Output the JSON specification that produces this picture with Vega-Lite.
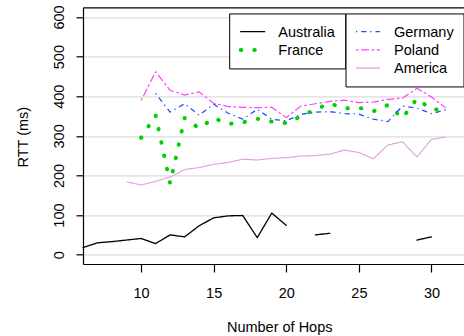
{
  "$schema": "https://vega.github.io/schema/vega-lite/v6.json",
  "width": 381,
  "height": 256.7,
  "autosize": {"type": "none"},
  "padding": {"left": 83, "top": 7.3, "right": 0, "bottom": 72},
  "background": "white",
  "config": {
    "view": {"stroke": null},
    "font": "Liberation Sans",
    "legend": {
      "orient": "none",
      "title": null,
      "padding": 9.5,
      "clipHeight": 17.5,
      "rowPadding": 0.2,
      "symbolSize": 576,
      "symbolType": "stroke",
      "symbolOffset": 0,
      "labelFont": "Liberation Sans",
      "labelFontSize": 14.5,
      "labelColor": "black",
      "strokeColor": "black",
      "fillColor": "white",
      "legendY": 6.15
    }
  },
  "data": {
    "values": [
      {"hop": 6, "rtt": 18, "country": "Australia"},
      {"hop": 7, "rtt": 30, "country": "Australia"},
      {"hop": 8, "rtt": 33, "country": "Australia"},
      {"hop": 9, "rtt": 37, "country": "Australia"},
      {"hop": 10, "rtt": 41, "country": "Australia"},
      {"hop": 11, "rtt": 28, "country": "Australia"},
      {"hop": 12, "rtt": 50, "country": "Australia"},
      {"hop": 13, "rtt": 45, "country": "Australia"},
      {"hop": 14, "rtt": 73, "country": "Australia"},
      {"hop": 15, "rtt": 93, "country": "Australia"},
      {"hop": 16, "rtt": 98, "country": "Australia"},
      {"hop": 17, "rtt": 99, "country": "Australia"},
      {"hop": 18, "rtt": 43, "country": "Australia"},
      {"hop": 19, "rtt": 105, "country": "Australia"},
      {"hop": 20, "rtt": 74, "country": "Australia"},
      {"hop": 21, "rtt": null, "country": "Australia"},
      {"hop": 22, "rtt": 50, "country": "Australia"},
      {"hop": 23, "rtt": 54, "country": "Australia"},
      {"hop": 24, "rtt": null, "country": "Australia"},
      {"hop": 25, "rtt": null, "country": "Australia"},
      {"hop": 26, "rtt": null, "country": "Australia"},
      {"hop": 27, "rtt": null, "country": "Australia"},
      {"hop": 28, "rtt": null, "country": "Australia"},
      {"hop": 29, "rtt": 37, "country": "Australia"},
      {"hop": 30, "rtt": 45, "country": "Australia"},

      {"hop": 10, "rtt": 295, "country": "France"},
      {"hop": 11, "rtt": 352, "country": "France"},
      {"hop": 12, "rtt": 180, "country": "France"},
      {"hop": 13, "rtt": 345, "country": "France"},
      {"hop": 14, "rtt": 319, "country": "France"},
      {"hop": 15, "rtt": 345, "country": "France"},
      {"hop": 16, "rtt": 330, "country": "France"},
      {"hop": 17, "rtt": 334, "country": "France"},
      {"hop": 18, "rtt": 343, "country": "France"},
      {"hop": 19, "rtt": 336, "country": "France"},
      {"hop": 20, "rtt": 332, "country": "France"},
      {"hop": 21, "rtt": 349, "country": "France"},
      {"hop": 22, "rtt": 367, "country": "France"},
      {"hop": 23, "rtt": 382, "country": "France"},
      {"hop": 24, "rtt": 369, "country": "France"},
      {"hop": 25, "rtt": 371, "country": "France"},
      {"hop": 26, "rtt": 362, "country": "France"},
      {"hop": 27, "rtt": 378, "country": "France"},
      {"hop": 28, "rtt": 345, "country": "France"},
      {"hop": 29, "rtt": 394, "country": "France"},
      {"hop": 30, "rtt": 367, "country": "France"},
      {"hop": 31, "rtt": 366, "country": "France"},

      {"hop": 11, "rtt": 407, "country": "Germany"},
      {"hop": 12, "rtt": 360, "country": "Germany"},
      {"hop": 13, "rtt": 381, "country": "Germany"},
      {"hop": 14, "rtt": 352, "country": "Germany"},
      {"hop": 15, "rtt": 380, "country": "Germany"},
      {"hop": 16, "rtt": 357, "country": "Germany"},
      {"hop": 17, "rtt": 342, "country": "Germany"},
      {"hop": 18, "rtt": 367, "country": "Germany"},
      {"hop": 19, "rtt": 342, "country": "Germany"},
      {"hop": 20, "rtt": 338, "country": "Germany"},
      {"hop": 21, "rtt": 354, "country": "Germany"},
      {"hop": 22, "rtt": 360, "country": "Germany"},
      {"hop": 23, "rtt": 361, "country": "Germany"},
      {"hop": 24, "rtt": 356, "country": "Germany"},
      {"hop": 25, "rtt": 355, "country": "Germany"},
      {"hop": 26, "rtt": 342, "country": "Germany"},
      {"hop": 27, "rtt": 336, "country": "Germany"},
      {"hop": 28, "rtt": 375, "country": "Germany"},
      {"hop": 29, "rtt": 370, "country": "Germany"},
      {"hop": 30, "rtt": 356, "country": "Germany"},
      {"hop": 31, "rtt": 366, "country": "Germany"},

      {"hop": 10, "rtt": 389, "country": "Poland"},
      {"hop": 11, "rtt": 462, "country": "Poland"},
      {"hop": 12, "rtt": 415, "country": "Poland"},
      {"hop": 13, "rtt": 403, "country": "Poland"},
      {"hop": 14, "rtt": 411, "country": "Poland"},
      {"hop": 15, "rtt": 382, "country": "Poland"},
      {"hop": 16, "rtt": 374, "country": "Poland"},
      {"hop": 17, "rtt": 372, "country": "Poland"},
      {"hop": 18, "rtt": 371, "country": "Poland"},
      {"hop": 19, "rtt": 372, "country": "Poland"},
      {"hop": 20, "rtt": 346, "country": "Poland"},
      {"hop": 21, "rtt": 375, "country": "Poland"},
      {"hop": 22, "rtt": 381, "country": "Poland"},
      {"hop": 23, "rtt": 387, "country": "Poland"},
      {"hop": 24, "rtt": 390, "country": "Poland"},
      {"hop": 25, "rtt": 384, "country": "Poland"},
      {"hop": 26, "rtt": 385, "country": "Poland"},
      {"hop": 27, "rtt": 392, "country": "Poland"},
      {"hop": 28, "rtt": 395, "country": "Poland"},
      {"hop": 29, "rtt": 420, "country": "Poland"},
      {"hop": 30, "rtt": 398, "country": "Poland"},
      {"hop": 31, "rtt": 370, "country": "Poland"},

      {"hop": 9, "rtt": 184, "country": "America"},
      {"hop": 10, "rtt": 176, "country": "America"},
      {"hop": 11, "rtt": 185, "country": "America"},
      {"hop": 12, "rtt": 196, "country": "America"},
      {"hop": 13, "rtt": 215, "country": "America"},
      {"hop": 14, "rtt": 220, "country": "America"},
      {"hop": 15, "rtt": 228, "country": "America"},
      {"hop": 16, "rtt": 233, "country": "America"},
      {"hop": 17, "rtt": 241, "country": "America"},
      {"hop": 18, "rtt": 239, "country": "America"},
      {"hop": 19, "rtt": 243, "country": "America"},
      {"hop": 20, "rtt": 245, "country": "America"},
      {"hop": 21, "rtt": 249, "country": "America"},
      {"hop": 22, "rtt": 250, "country": "America"},
      {"hop": 23, "rtt": 254, "country": "America"},
      {"hop": 24, "rtt": 264, "country": "America"},
      {"hop": 25, "rtt": 258, "country": "America"},
      {"hop": 26, "rtt": 242, "country": "America"},
      {"hop": 27, "rtt": 277, "country": "America"},
      {"hop": 28, "rtt": 285, "country": "America"},
      {"hop": 29, "rtt": 247, "country": "America"},
      {"hop": 30, "rtt": 291, "country": "America"},
      {"hop": 31, "rtt": 297, "country": "America"}
    ]
  },
  "layer": [
    {
      "transform": [{"filter": {"field": "country", "oneOf": ["Australia", "France"]}}],
      "mark": {"type": "line", "strokeCap": "round", "strokeJoin": "round", "invalid": "break-paths-filter-domains"},
      "encoding": {
        "x": {
          "field": "hop", "type": "quantitative",
          "scale": {"domain": [6, 32.24], "nice": false, "zero": false},
          "axis": {
            "orient": "bottom", "values": [10, 15, 20, 25, 30], "grid": false,
            "domainColor": "black", "domainWidth": 1.2,
            "tickColor": "black", "tickWidth": 1.2, "tickSize": 8,
            "labelBaseline": "alphabetic", "labelPadding": 25.3, "labelFontSize": 14.5,
            "labelColor": "black", "labelFlush": false, "labelOverlap": false,
            "title": "Number of Hops", "titleX": 196.2, "titleY": 67.7,
            "titleAlign": "center", "titleBaseline": "alphabetic",
            "titleFontWeight": "normal", "titleFontSize": 14.5, "titleColor": "black"
          }
        },
        "y": {
          "field": "rtt", "type": "quantitative",
          "scale": {"domain": [-23.5, 624.5], "nice": false, "zero": false},
          "axis": {
            "values": [0, 100, 200, 300, 400, 500, 600],
            "grid": true, "gridColor": "#dcdcdc", "gridWidth": 1.2,
            "domainColor": "black", "domainWidth": 1.2,
            "tickColor": "black", "tickWidth": 1.2, "tickSize": 7,
            "labelAngle": -90, "labelAlign": "center", "labelBaseline": "alphabetic",
            "labelPadding": 12.3, "labelFontSize": 14.5, "labelColor": "black",
            "labelFlush": false, "labelOverlap": false,
            "title": "RTT (ms)", "titleX": -55.7, "titleY": 129.4, "titleAngle": -90,
            "titleAlign": "center", "titleBaseline": "alphabetic",
            "titleFontWeight": "normal", "titleFontSize": 14.5, "titleColor": "black"
          }
        },
        "color": {
          "field": "country", "type": "nominal",
          "scale": {"domain": ["Australia", "France"], "range": ["black", "#00d000"]},
          "legend": {
            "legendX": 146.2, "labelOffset": 11.6,
            "encoding": {
              "symbols": {"strokeCap": {"value": "round"}},
              "labels": {"dy": {"value": 1.25}}
            }
          }
        },
        "strokeDash": {
          "field": "country", "type": "nominal",
          "scale": {"domain": ["Australia", "France"], "range": [[1, 0], [0.5, 13.1]]},
          "legend": {
            "legendX": 146.2, "labelOffset": 11.6,
            "encoding": {
              "symbols": {"strokeCap": {"value": "round"}},
              "labels": {"dy": {"value": 1.25}}
            }
          }
        },
        "strokeWidth": {
          "field": "country", "type": "nominal",
          "scale": {"type": "ordinal", "domain": ["Australia", "France"], "range": [1.3, 4]},
          "legend": {
            "legendX": 146.2, "labelOffset": 11.6,
            "encoding": {
              "symbols": {"strokeCap": {"value": "round"}},
              "labels": {"dy": {"value": 1.25}}
            }
          }
        }
      }
    },
    {
      "transform": [{"filter": {"field": "country", "oneOf": ["Germany", "Poland", "America"]}}],
      "mark": {"type": "line", "strokeJoin": "round", "invalid": "break-paths-filter-domains"},
      "encoding": {
        "x": {
          "field": "hop", "type": "quantitative",
          "scale": {"domain": [6, 32.24], "nice": false, "zero": false},
          "axis": {
            "orient": "top", "labels": false, "ticks": false, "grid": false, "title": null,
            "domain": true, "domainColor": "black", "domainWidth": 1.2
          }
        },
        "y": {
          "field": "rtt", "type": "quantitative",
          "scale": {"domain": [-23.5, 624.5], "nice": false, "zero": false},
          "axis": {
            "values": [0, 100, 200, 300, 400, 500, 600],
            "grid": true, "gridColor": "#dcdcdc", "gridWidth": 1.2,
            "domainColor": "black", "domainWidth": 1.2,
            "tickColor": "black", "tickWidth": 1.2, "tickSize": 7,
            "labelAngle": -90, "labelAlign": "center", "labelBaseline": "alphabetic",
            "labelPadding": 12.3, "labelFontSize": 14.5, "labelColor": "black",
            "labelFlush": false, "labelOverlap": false,
            "title": "RTT (ms)", "titleX": -55.7, "titleY": 129.4, "titleAngle": -90,
            "titleAlign": "center", "titleBaseline": "alphabetic",
            "titleFontWeight": "normal", "titleFontSize": 14.5, "titleColor": "black"
          }
        },
        "color": {
          "field": "country", "type": "nominal",
          "scale": {"domain": ["Germany", "Poland", "America"], "range": ["#2050ff", "#ff40ff", "#dda0dd"]},
          "legend": {
            "legendX": 262.5, "labelOffset": 13,
            "encoding": {
              "labels": {"dy": {"value": 1.25}}
            }
          }
        },
        "strokeDash": {
          "field": "country", "type": "nominal",
          "scale": {"domain": ["Germany", "Poland", "America"], "range": [[1.3, 3.9, 5.2, 3.9], [2.6, 2.6, 7.8, 2.6], [1, 0]]},
          "legend": {
            "legendX": 262.5, "labelOffset": 13,
            "encoding": {
              "labels": {"dy": {"value": 1.25}}
            }
          }
        },
        "strokeWidth": {
          "field": "country", "type": "nominal",
          "scale": {"type": "ordinal", "domain": ["Germany", "Poland", "America"], "range": [1.3, 1.2, 1.1]},
          "legend": {
            "legendX": 262.5, "labelOffset": 13,
            "encoding": {
              "labels": {"dy": {"value": 1.25}}
            }
          }
        }
      }
    }
  ],
  "resolve": {
    "scale": {"color": "independent", "strokeDash": "independent", "strokeWidth": "independent"},
    "axis": {"x": "independent"}
  }
}
